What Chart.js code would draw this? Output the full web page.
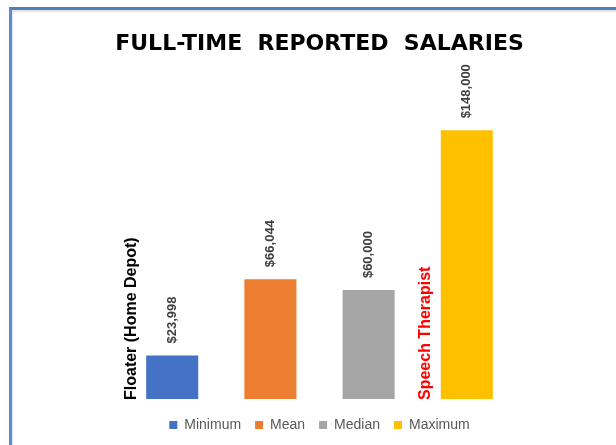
<!DOCTYPE html>
<html>
<head>
<meta charset="utf-8">
<script src="https://cdn.jsdelivr.net/npm/chart.js@4.4.1/dist/chart.umd.min.js"></script>
<style>
  html, body { margin: 0; padding: 0; background: #ffffff; }
  #wrap { position: absolute; left: 0; top: 0; width: 616px; height: 445px; overflow: hidden; }
  #frame {
    position: absolute; left: 9px; top: 7px; width: 700px; height: 500px;
    border-top: 3px solid #4f7fc0; border-left: 3px solid #5b8bd0;
    box-shadow: inset 1px 2px 2px rgba(0,0,0,0.12);
    pointer-events: none;
  }
  #chartBox { position: absolute; left: 0; top: 0; width: 616px; height: 445px; }
</style>
</head>
<body>
<div id="wrap">
  <div id="chartBox"><canvas id="salaryChart"></canvas></div>
  <div id="frame"></div>
</div>
<script>
// chart values
const categories = ["Full-time"];
const seriesNames = ["Minimum", "Mean", "Median", "Maximum"];
const salaries = [23998, 66044, 60000, 148000];
const barColors = ["#4472c4", "#ed7d31", "#a5a5a5", "#ffc000"];
// side notes written next to the Minimum and Maximum bars
const notes = ["Floater (Home Depot)", null, null, "Speech Therapist"];
const noteColors = ["#000000", null, null, "#ff0000"];

const fmt = (v) => "$" + v.toLocaleString("en-US");

// value labels, rotated, above each bar + the side notes
const barTextPlugin = {
  id: "barText",
  afterDatasetsDraw(chart) {
    const ctx = chart.ctx;
    const bottom = chart.chartArea.bottom;
    chart.data.datasets.forEach((ds, i) => {
      const bar = chart.getDatasetMeta(i).data[0];
      if (!bar) return;
      ctx.save();
      ctx.translate(bar.x, bar.y - 12);
      ctx.rotate(-Math.PI / 2);
      ctx.font = "bold 13px 'Liberation Sans', Arial, sans-serif";
      ctx.fillStyle = "#404040";
      ctx.textAlign = "left";
      ctx.textBaseline = "middle";
      ctx.fillText(fmt(ds.data[0]), 0, 0);
      ctx.restore();

      if (notes[i]) {
        const half = bar.width / 2;
        ctx.save();
        ctx.translate(bar.x - half - 15, bottom + 1);
        ctx.rotate(-Math.PI / 2);
        ctx.font = "bold 16px 'Liberation Sans', Arial, sans-serif";
        ctx.fillStyle = noteColors[i];
        ctx.textAlign = "left";
        ctx.textBaseline = "middle";
        ctx.fillText(notes[i], 0, 0);
        ctx.restore();
      }
    });
  },
};

const whiteBg = {
  id: "whiteBg",
  beforeDraw(chart) {
    const ctx = chart.ctx;
    ctx.save();
    ctx.fillStyle = "#ffffff";
    ctx.fillRect(0, 0, chart.width, chart.height);
    ctx.restore();
  },
};

new Chart(document.getElementById("salaryChart"), {
  type: "bar",
  data: {
    labels: categories,
    datasets: seriesNames.map((name, i) => ({
      label: name,
      data: [salaries[i]],
      backgroundColor: barColors[i],
      borderWidth: 0,
    })),
  },
  options: {
    responsive: true,
    maintainAspectRatio: false,
    animation: false,
    devicePixelRatio: 1,
    categoryPercentage: 0.8,
    barPercentage: 0.53,
    layout: { padding: { left: 74, right: 51, top: 0, bottom: 3 } },
    scales: {
      // axis kept invisible, only used as a small gap above the legend
      x: {
        display: true,
        ticks: { display: false },
        grid: { display: false },
        border: { display: false },
        afterFit: (scale) => { scale.height = 5; },
      },
      y: { display: false, min: 0, max: 186000 },
    },
    plugins: {
      title: {
        display: true,
        text: "FULL-TIME  REPORTED  SALARIES",
        color: "#000000",
        font: { family: "'DejaVu Sans', sans-serif", size: 22, weight: "bold" },
        padding: { top: 31, bottom: 4 },
      },
      legend: {
        position: "bottom",
        labels: {
          boxWidth: 8,
          boxHeight: 8,
          padding: 14,
          color: "#595959",
          font: { family: "'Liberation Sans', Arial, sans-serif", size: 14 },
        },
      },
      tooltip: { enabled: false },
    },
  },
  plugins: [whiteBg, barTextPlugin],
});
</script>
</body>
</html>
